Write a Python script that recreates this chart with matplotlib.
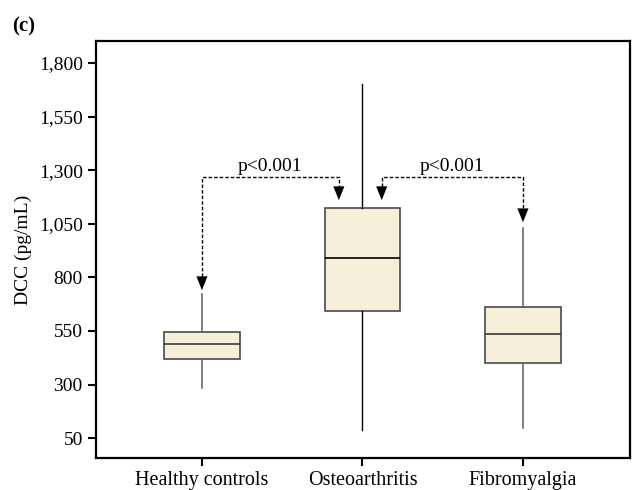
import numpy as np
import matplotlib
matplotlib.use("Agg")
import matplotlib.pyplot as plt

plt.rcParams['font.family'] = ['Liberation Serif', 'DejaVu Serif']

groups = ["Healthy controls", "Osteoarthritis", "Fibromyalgia"]
whislo = [283, 87, 97]
q1 = [418, 642, 400]
med = [488, 890, 535]
q3 = [544, 1123, 661]
whishi = [722, 1701, 1029]
yticks = [50, 300, 550, 800, 1050, 1300, 1550, 1800]
ptext = ["p<0.001", "p<0.001"]

stats_list = [dict(label=g, whislo=a, q1=b, med=c, q3=d, whishi=e, fliers=[])
              for g, a, b, c, d, e in zip(groups, whislo, q1, med, q3, whishi)]

fig = plt.figure(figsize=(6.37, 4.90), dpi=100)
ax = fig.add_axes([96/637, 1 - 458/490, (630-96)/637, (458-41)/490])

pos = np.arange(len(groups))
bp = ax.bxp(stats_list, positions=pos, widths=0.47, patch_artist=True,
            showcaps=False,
            boxprops=dict(facecolor='#f6f0da', edgecolor='#4a4a4a', linewidth=1.2),
            medianprops=dict(color='#3a3a3a', linewidth=1.2),
            whiskerprops=dict(color='#6a6a6a', linewidth=1.2))
# osteoarthritis drawn with darker lines
bp['medians'][1].set_color('black')
for w in bp['whiskers'][2:4]:
    w.set_color('black'); w.set_linewidth(1.0)

ax.set_xlim(-0.66, 2.667)
ax.set_ylim(-43, 1903)
ax.set_yticks(yticks)
ax.set_yticklabels([f"{v:,}" for v in yticks])
ax.set_xticks(pos)
ax.set_xticklabels(groups, fontsize=14.5)
ax.tick_params(axis='y', labelsize=14)
ax.tick_params(axis='both', length=6, width=1.5, direction='out')
for s in ax.spines.values():
    s.set_linewidth(1.6)
ax.set_ylabel("DCC (pg/mL)", fontsize=14, labelpad=5)

# significance brackets
def bracket(x0, x1, y, t0, t1, txt):
    kw = dict(color='black', lw=1.0, ls=(0, (2.5, 1.5)))
    ax.plot([x0, x0, x1, x1], [t0 + 40, y, y, t1 + 40], **kw)
    for x, t in [(x0, t0), (x1, t1)]:
        ax.annotate('', xy=(x, t), xytext=(x, t + 70),
                    arrowprops=dict(arrowstyle='-|>,head_length=1.0,head_width=0.4',
                                    color='black', lw=0, shrinkA=0, shrinkB=0))
    ax.text((x0 + x1) / 2, y + 12, txt, ha='center', va='bottom', fontsize=14)

bracket(0, 0.853, 1267, 740, 1160, ptext[0])
bracket(1.12, 2, 1267, 1160, 1057, ptext[1])

fig.text(12/637, 1 - 26/490, "(c)", fontsize=15, fontweight='bold', va='center')

fig.savefig("out.png", dpi=100)
